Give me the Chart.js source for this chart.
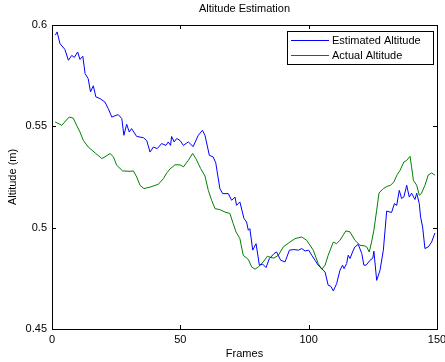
<!DOCTYPE html>
<html>
<head>
<meta charset="utf-8">
<script src="https://cdn.jsdelivr.net/npm/chart.js@4"></script>
<style>
  html, body { margin: 0; padding: 0; background: #fff; }
  #wrap { width: 445px; height: 362px; position: relative; }
</style>
</head>
<body>
<div id="wrap"><canvas id="altChart" width="445" height="362"></canvas></div>
<script>
// values
const estFrames = [1.3, 2, 3.1, 5, 6.4, 7.7, 8.7, 10, 10.9, 12, 12.9, 14.1, 15, 16.1, 17.1, 18.7, 20.6, 21.9, 23.3, 25.8,
  27.2, 28, 29.1, 30.1, 31, 33, 35.6, 36.9, 38.2, 39.5, 41, 42.7, 44.4, 45.3, 46.2, 46.6, 47.6, 48.6, 49.9, 51.2,
  53.1, 55, 57, 58.6, 59.6, 61.3, 62.8, 63.8, 64.3, 65.4, 66.5, 68.7, 70, 71.3, 71.9, 73.2, 74.8, 75.8, 76.5, 77.1,
  78.2, 79.5, 80.8, 82.1, 83.4, 84.7, 86.5, 87.5, 89.1, 90.8, 92.5, 94.2, 96, 97.3, 98.6, 100, 101.2, 102.5, 103.7, 105.1,
  106.4, 107.6, 108.6, 109.6, 110.9, 112.2, 113.2, 113.8, 114.8, 115.4, 116.1, 117.1, 118, 119.3, 120.7, 121.5, 122.4, 123.9, 125, 125.4,
  126.5, 127.8, 129.1, 130.4, 131.7, 132.3, 133.4, 134.3, 135.3, 136.2, 137.1, 138.2, 139.2, 140.1, 141.4, 142.1, 143.1, 143.6, 144.4, 145.3,
  146.6, 147.9, 149.2];
const estAltitude = [0.595, 0.5966, 0.5908, 0.588, 0.5826, 0.585, 0.584, 0.5867, 0.583, 0.5846, 0.576, 0.5735, 0.567, 0.570, 0.5645, 0.5637, 0.562, 0.5588, 0.5546, 0.5558,
  0.5538, 0.5456, 0.551, 0.5472, 0.5489, 0.545, 0.5444, 0.543, 0.5373, 0.5398, 0.539, 0.5415, 0.5406, 0.5423, 0.5406, 0.545, 0.5423, 0.544, 0.543, 0.5406,
  0.5423, 0.540, 0.5456, 0.548, 0.5456, 0.5357, 0.5349, 0.532, 0.528, 0.5193, 0.5168, 0.5168, 0.5135, 0.5151, 0.511, 0.5127, 0.5045, 0.5028, 0.4987, 0.4995,
  0.4889, 0.4921, 0.4815, 0.482, 0.4803, 0.4848, 0.4872, 0.488, 0.4839, 0.4831, 0.4889, 0.4892, 0.4889, 0.4897, 0.4885, 0.4889, 0.4864, 0.4839, 0.4815, 0.4798,
  0.4781, 0.4716, 0.4711, 0.4688, 0.4724, 0.479, 0.4815, 0.4798, 0.4823, 0.4864, 0.4848, 0.488, 0.4905, 0.4918, 0.4872, 0.4815, 0.4815, 0.4839, 0.485, 0.4884,
  0.474, 0.479, 0.4889, 0.5082, 0.5077, 0.5075, 0.5119, 0.511, 0.5184, 0.5144, 0.5152, 0.5209, 0.5151, 0.517, 0.5139, 0.517, 0.5119, 0.5053, 0.5003, 0.4897,
  0.4905, 0.4929, 0.4974];

const actFrames = [1.2, 3.8, 6.7, 8.3, 9.6, 10.9, 12.2, 14.1, 16.8, 19.4, 20.6, 22.6, 23.9, 25.2, 27.5, 30.4, 31.7, 33, 34.3, 35.8,
  38.2, 41.4, 43.4, 44.7, 46, 47.9, 49.9, 51.2, 53.1, 54.8, 56.1, 57.9, 59.6, 60.9, 62.2, 63.5, 65.4, 67.4, 69.3, 70.6,
  71.7, 73.2, 74.5, 76.5, 77.8, 79.1, 80.4, 82.3, 83.9, 85.2, 86.5, 88.2, 90.1, 92.7, 94.7, 97.3, 99.2, 101.8, 103.7, 105.1,
  106.4, 107.6, 109.6, 110.9, 112.2, 114.5, 116.1, 118, 120, 121.9, 122.6, 123.6, 124.5, 125.4, 126.5, 127.4, 129.1, 130.6, 131.9, 133.2,
  134.5, 135.6, 137.1, 138.2, 139.5, 140.1, 140.8, 142.1, 143.1, 143.9, 145.3, 146.6, 147.9, 149.2];
const actAltitude = [0.5522, 0.5505, 0.5546, 0.554, 0.5505, 0.5472, 0.5431, 0.5398, 0.5369, 0.5341, 0.5349, 0.5366, 0.535, 0.5308, 0.528, 0.5278, 0.528, 0.525, 0.5209, 0.5193,
  0.52, 0.5214, 0.5242, 0.527, 0.529, 0.531, 0.531, 0.530, 0.5332, 0.5366, 0.534, 0.5292, 0.5255, 0.5184, 0.5135, 0.5094, 0.5089, 0.5077, 0.507, 0.502,
  0.4979, 0.4946, 0.4864, 0.4843, 0.4806, 0.4795, 0.4806, 0.4831, 0.4859, 0.4853, 0.485, 0.4864, 0.4905, 0.4929, 0.4946, 0.4954, 0.4938, 0.4889, 0.4823, 0.4795,
  0.4815, 0.4864, 0.4929, 0.4921, 0.4938, 0.4984, 0.4979, 0.4938, 0.4913, 0.491, 0.4905, 0.488, 0.4929, 0.4987, 0.5086, 0.5171, 0.5193, 0.5204, 0.5209, 0.5226,
  0.5262, 0.5283, 0.5324, 0.5332, 0.5352, 0.53, 0.5234, 0.5209, 0.516, 0.5168, 0.5209, 0.526, 0.527, 0.5259];

const seriesNames = ['Estimated Altitude', 'Actual Altitude'];
const seriesColors = ['#0000ff', '#008000'];
const xTicks = [0, 50, 100, 150];
const yTicks = [0.45, 0.5, 0.55, 0.6];

const FONT = '"Liberation Sans", Arial, Helvetica, sans-serif';

function toPoints(xs, ys) {
  return xs.map((x, i) => ({ x: x, y: ys[i] }));
}

// box, inward ticks, titles and legend, matlab style
const matlabFrame = {
  id: 'matlabFrame',
  afterDraw(chart) {
    const ctx = chart.ctx;
    const a = chart.chartArea;
    const xs = chart.scales.x, ys = chart.scales.y;
    ctx.save();
    ctx.strokeStyle = '#000';
    ctx.lineWidth = 1;
    ctx.strokeRect(Math.round(a.left) + 0.5, Math.round(a.top) + 0.5,
      Math.round(a.right - a.left), Math.round(a.bottom - a.top));
    ctx.beginPath();
    xTicks.forEach(v => {
      const px = Math.round(xs.getPixelForValue(v)) + 0.5;
      ctx.moveTo(px, a.bottom); ctx.lineTo(px, a.bottom - 4);
      ctx.moveTo(px, a.top); ctx.lineTo(px, a.top + 4);
    });
    yTicks.forEach(v => {
      const py = Math.round(ys.getPixelForValue(v)) + 0.5;
      ctx.moveTo(a.left, py); ctx.lineTo(a.left + 4, py);
      ctx.moveTo(a.right, py); ctx.lineTo(a.right - 4, py);
    });
    ctx.stroke();

    ctx.fillStyle = '#000';
    ctx.font = '11px ' + FONT;
    ctx.textAlign = 'center';
    ctx.textBaseline = 'middle';
    ctx.fillText('Altitude Estimation', (a.left + a.right) / 2, 9);
    ctx.fillText('Frames', (a.left + a.right) / 2, 354);
    ctx.save();
    ctx.translate(13, (a.top + a.bottom) / 2);
    ctx.rotate(-Math.PI / 2);
    ctx.fillText('Altitude (m)', 0, 0);
    ctx.restore();

    // legend
    const lx = 287, ly = 31, lw = 146, lh = 33;
    ctx.fillStyle = '#fff';
    ctx.fillRect(lx, ly, lw, lh);
    ctx.strokeStyle = '#000';
    ctx.strokeRect(lx + 0.5, ly + 0.5, lw, lh);
    ctx.textAlign = 'left';
    chart.data.datasets.forEach((ds, i) => {
      const yy = ly + 9 + i * 15;
      ctx.strokeStyle = ds.borderColor;
      ctx.beginPath();
      ctx.moveTo(lx + 4, yy + 0.5); ctx.lineTo(lx + 42, yy + 0.5);
      ctx.stroke();
      ctx.fillStyle = '#000';
      ctx.fillText(ds.label, lx + 45, yy + 0.5);
    });
    ctx.restore();
  }
};

new Chart(document.getElementById('altChart').getContext('2d'), {
  type: 'line',
  data: {
    datasets: [
      { label: seriesNames[0], data: toPoints(estFrames, estAltitude), borderColor: seriesColors[0],
        borderWidth: 1, pointRadius: 0, fill: false, tension: 0 },
      { label: seriesNames[1], data: toPoints(actFrames, actAltitude), borderColor: seriesColors[1],
        borderWidth: 1, pointRadius: 0, fill: false, tension: 0 }
    ]
  },
  options: {
    responsive: false,
    animation: false,
    layout: { padding: { top: 25, right: 8, left: 0, bottom: 0 } },
    plugins: { legend: { display: false }, title: { display: false }, tooltip: { enabled: false } },
    scales: {
      x: {
        type: 'linear', min: 0, max: 150,
        afterFit(s) { s.height = 33; s.paddingLeft = 0; s.paddingRight = 0; },
        afterBuildTicks(s) { s.ticks = xTicks.map(v => ({ value: v })); },
        grid: { display: false, drawTicks: false },
        border: { display: false },
        ticks: { color: '#000', padding: 4, font: { family: FONT, size: 11 }, maxRotation: 0 }
      },
      y: {
        type: 'linear', min: 0.45, max: 0.6,
        afterFit(s) { s.width = 52; s.paddingTop = 0; s.paddingBottom = 0; },
        afterBuildTicks(s) { s.ticks = yTicks.map(v => ({ value: v })); },
        grid: { display: false, drawTicks: false },
        border: { display: false },
        ticks: { color: '#000', padding: 5, font: { family: FONT, size: 11 },
          callback: v => String(parseFloat(v.toFixed(2))) }
      }
    }
  },
  plugins: [matlabFrame]
});
</script>
</body>
</html>
